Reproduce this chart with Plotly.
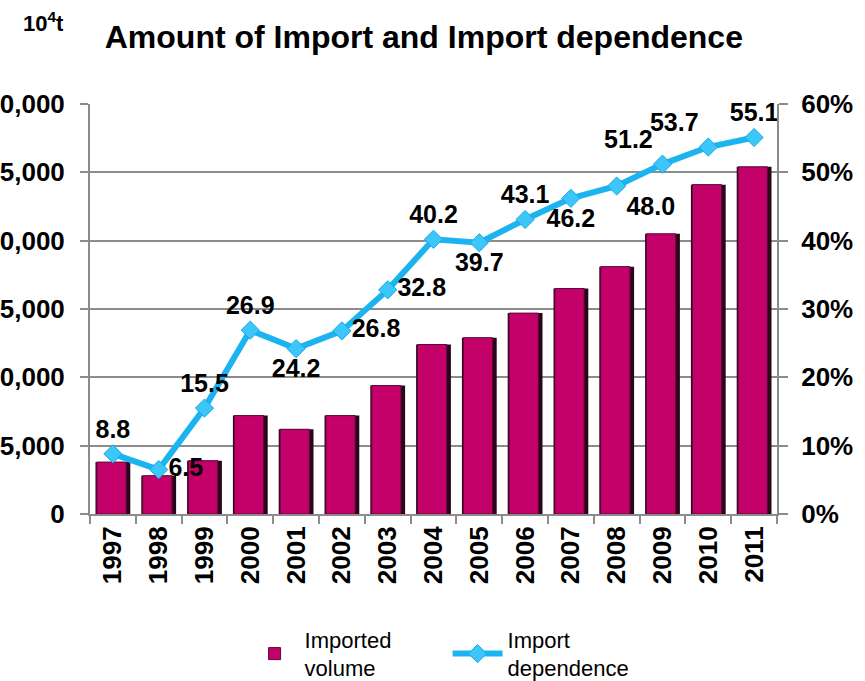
import plotly.graph_objects as go

# ---- data ----
years = ["1997", "1998", "1999", "2000", "2001", "2002", "2003", "2004",
         "2005", "2006", "2007", "2008", "2009", "2010", "2011"]
imported_volume = [3800, 2800, 3900, 7200, 6200, 7200, 9400, 12400,
                   12900, 14700, 16500, 18100, 20500, 24100, 25400]
import_dependence = [8.8, 6.5, 15.5, 26.9, 24.2, 26.8, 32.8, 40.2,
                     39.7, 43.1, 46.2, 48.0, 51.2, 53.7, 55.1]

# label placement for each point (style)
label_pos = ["top center", "middle right", "top center", "top center", "bottom center",
             "middle right", "middle right", "top center", "bottom center", "top center",
             "bottom center", "bottom right", "top left", "top left", "top center"]

FONT = "Liberation Sans, Arial, sans-serif"
GRID = "#8c8c8c"

fig = go.Figure()

# dark edge of the bars
fig.add_trace(go.Bar(
    x=years, y=imported_volume, width=0.76, offset=-0.38,
    marker=dict(color="#2a0618", line_width=0),
    showlegend=False, hoverinfo="skip"))
# coloured face of the bars
fig.add_trace(go.Bar(
    x=years, y=imported_volume, width=0.64, offset=-0.35,
    marker=dict(color="#c4006a", line=dict(color="#5a0a3a", width=1)),
    name="Imported<br>volume"))

fig.add_trace(go.Scatter(
    x=years, y=import_dependence, yaxis="y2",
    mode="lines+markers+text",
    text=[f"{v:.1f}" for v in import_dependence],
    textposition=label_pos,
    textfont=dict(size=25, color="black", family=FONT, weight="bold"),
    line=dict(color="#1cb4f0", width=6),
    marker=dict(symbol="diamond", size=14, color="#3cc6fa",
                line=dict(color="#18a8e8", width=1)),
    name="Import<br>dependence", cliponaxis=False))

tickfont = dict(size=26, color="black", family=FONT, weight="bold")

fig.update_layout(
    width=865, height=681,
    barmode="overlay",
    plot_bgcolor="white", paper_bgcolor="white",
    margin=dict(l=90, r=88, t=104, b=167, autoexpand=False),
    font=dict(family=FONT, color="black"),
    xaxis=dict(type="category", range=[-0.5, 14.5], tickangle=-90,
               tickfont=tickfont, ticks="outside", tickson="boundaries",
               ticklen=8, tickwidth=2, tickcolor=GRID,
               showline=True, linecolor=GRID, linewidth=2, showgrid=False,
               automargin=False),
    yaxis=dict(range=[0, 30000], dtick=5000, tickformat=",",
               tickfont=tickfont, ticks="outside", ticklen=8, tickwidth=2,
               tickcolor=GRID, showline=True, linecolor=GRID, linewidth=2,
               gridcolor=GRID, gridwidth=2, zeroline=False,
               ticklabelstandoff=10, automargin=False),
    yaxis2=dict(range=[0, 60], dtick=10, ticksuffix="%", overlaying="y",
                side="right", tickfont=tickfont, ticks="outside", ticklen=9,
                tickwidth=2, tickcolor=GRID, showline=True, linecolor=GRID,
                linewidth=2, showgrid=False, zeroline=False,
                ticklabelstandoff=8, automargin=False),
    legend=dict(orientation="h", x=0.225, xanchor="left",
                yref="container", y=1 - 654 / 681, yanchor="middle",
                font=dict(size=22, family=FONT, color="black"),
                itemwidth=50, entrywidth=138, entrywidthmode="pixels",
                bgcolor="rgba(0,0,0,0)"),
    title=dict(text="<b>Amount of Import and Import dependence</b>",
               x=0.49, xanchor="center", y=1 - 37 / 681, yanchor="middle",
               font=dict(size=32, family=FONT, color="black")),
    showlegend=True,
)

fig.add_annotation(text="<b>10<sup>4</sup>t</b>", xref="paper", yref="paper",
                   x=-0.067, y=1.2, xanchor="center", yanchor="middle",
                   showarrow=False, font=dict(size=22, family=FONT, color="black"))

fig.write_html("out.html")
